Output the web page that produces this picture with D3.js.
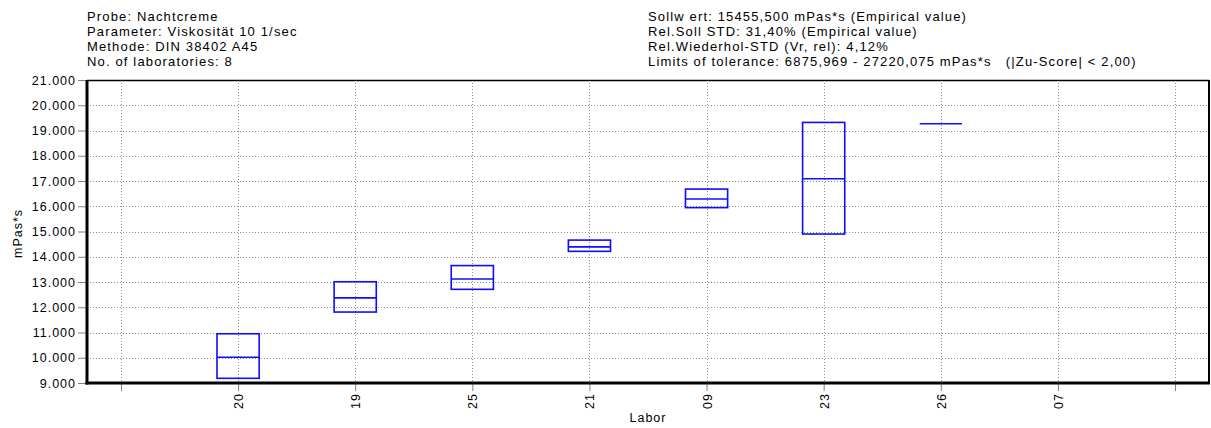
<!DOCTYPE html>
<html>
<head>
<meta charset="utf-8">
<script src="https://cdn.jsdelivr.net/npm/d3@7"></script>
<style>
  html, body { margin: 0; padding: 0; background: #fff; }
  svg { display: block; }
  text { font-family: "Liberation Sans", Arial, Helvetica, sans-serif; fill: #000; letter-spacing: 1px; white-space: pre; }
  .header text { letter-spacing: 1.15px; }
</style>
</head>
<body>
<svg id="chart" width="1211" height="428"></svg>
<script>
// Laboratories in plotted order
const labs = ["20", "19", "25", "21", "09", "23", "26", "07"];
// Box statistics per laboratory (mPas*s); lab 07 reported no value
const lower  = [9185, 11810, 12710, 14215, 15945, 14900, 19270, null];
const median = [10020, 12370, 13120, 14390, 16290, 17090, 19270, null];
const upper  = [10950, 13010, 13650, 14660, 16680, 19320, 19270, null];

// Y axis ticks
const yTicks = [9000, 10000, 11000, 12000, 13000, 14000, 15000, 16000, 17000, 18000, 19000, 20000, 21000];

// Header blocks
const headerLeft = [
  "Probe: Nachtcreme",
  "Parameter: Viskosität 10 1/sec",
  "Methode: DIN 38402 A45",
  "No. of laboratories: 8"
];
const headerRight = [
  "Sollw ert: 15455,500 mPas*s (Empirical value)",
  "Rel.Soll STD: 31,40% (Empirical value)",
  "Rel.Wiederhol-STD (Vr, rel): 4,12%",
  "Limits of tolerance: 6875,969 - 27220,075 mPas*s   (|Zu-Score| < 2,00)"
];

const svg = d3.select("#chart");
const plot = { left: 87, right: 1209, top: 80, bottom: 383 };

const de = d3.formatLocale({ decimal: ",", thousands: ".", grouping: [3], currency: ["", " €"] });
const fmt = de.format(",d");

// Slots: an empty slot on each side of the labs
const slots = ["_a", ...labs, "_b"];
const x = d3.scalePoint().domain(slots).range([plot.left, plot.right]).padding(0.29);
const y = d3.scaleLinear().domain([9000, 21000]).range([plot.bottom, plot.top]);

// Grid
const grid = svg.append("g").attr("stroke", "#8c8c8c").attr("stroke-width", 1).attr("stroke-dasharray", "1,2");
grid.selectAll("line.h").data(yTicks.filter(v => v > 9000 && v < 21000)).join("line")
  .attr("x1", plot.left).attr("x2", plot.right)
  .attr("y1", d => Math.round(y(d)) + 0.5).attr("y2", d => Math.round(y(d)) + 0.5);
grid.selectAll("line.v").data(slots).join("line")
  .attr("y1", plot.top).attr("y2", plot.bottom)
  .attr("x1", d => Math.round(x(d)) + 0.5).attr("x2", d => Math.round(x(d)) + 0.5);

// Y axis
const yAxis = d3.axisLeft(y).tickValues(yTicks).tickFormat(fmt).tickSize(9).tickPadding(2);
const gy = svg.append("g").attr("transform", `translate(${plot.left},0)`).call(yAxis);
gy.select(".domain").remove();
gy.selectAll(".tick line").attr("stroke", "#808080");
gy.selectAll(".tick text").attr("font-size", 12.5).attr("fill", "#000")
  .style("font-family", "'Liberation Sans', Arial, sans-serif");

// X axis
const xAxis = d3.axisBottom(x).tickFormat(d => d.startsWith("_") ? "" : d).tickSize(8).tickPadding(0);
const gx = svg.append("g").attr("transform", `translate(0,${plot.bottom})`).call(xAxis);
gx.select(".domain").remove();
gx.selectAll(".tick line").attr("stroke", "#808080");
gx.selectAll(".tick text")
  .attr("font-size", 12.5).attr("fill", "#000")
  .style("font-family", "'Liberation Sans', Arial, sans-serif")
  .attr("transform", "rotate(-90)")
  .attr("text-anchor", "end")
  .attr("x", -10).attr("y", 0).attr("dy", "0.36em");

// Frame
const frame = svg.append("g").attr("stroke", "#000");
frame.append("line").attr("x1", plot.left).attr("x2", plot.right).attr("y1", plot.top + 0.5).attr("y2", plot.top + 0.5).attr("stroke-width", 1.5);
frame.append("line").attr("x1", plot.right).attr("x2", plot.right).attr("y1", plot.top).attr("y2", plot.bottom).attr("stroke-width", 2);
frame.append("line").attr("x1", plot.left).attr("x2", plot.left).attr("y1", plot.top).attr("y2", plot.bottom + 1.5).attr("stroke-width", 3);
frame.append("line").attr("x1", plot.left - 1.5).attr("x2", plot.right + 1).attr("y1", plot.bottom).attr("y2", plot.bottom).attr("stroke-width", 3);

// Boxes
const boxes = labs.map((lab, i) => ({ lab, lo: lower[i], med: median[i], hi: upper[i] })).filter(d => d.lo != null);
const bw = x.step() * 0.36;
const gb = svg.append("g").attr("fill", "none").attr("stroke", "#0d0dff").attr("stroke-width", 1.6);
gb.selectAll("rect").data(boxes).join("rect")
  .attr("x", d => x(d.lab) - bw / 2).attr("width", bw)
  .attr("y", d => y(d.hi)).attr("height", d => y(d.lo) - y(d.hi));
gb.selectAll("line").data(boxes).join("line")
  .attr("x1", d => x(d.lab) - bw / 2).attr("x2", d => x(d.lab) + bw / 2)
  .attr("y1", d => y(d.med)).attr("y2", d => y(d.med));

// Axis titles
svg.append("text").attr("x", (plot.left + plot.right) / 2).attr("y", 422)
  .attr("text-anchor", "middle").attr("font-size", 12.5).text("Labor");
svg.append("text").attr("transform", `translate(22,${(plot.top + plot.bottom) / 2 + 2}) rotate(-90)`)
  .attr("text-anchor", "middle").attr("font-size", 12.5).text("mPas*s");

// Header
const hl = svg.append("g").attr("class", "header").attr("font-size", 13);
hl.selectAll("text").data(headerLeft).join("text")
  .attr("x", 87).attr("y", (d, i) => 21 + i * 15).text(d => d);
const hr = svg.append("g").attr("class", "header").attr("font-size", 13);
hr.selectAll("text").data(headerRight).join("text")
  .attr("x", 648).attr("y", (d, i) => 21 + i * 15).text(d => d);
</script>
</body>
</html>
